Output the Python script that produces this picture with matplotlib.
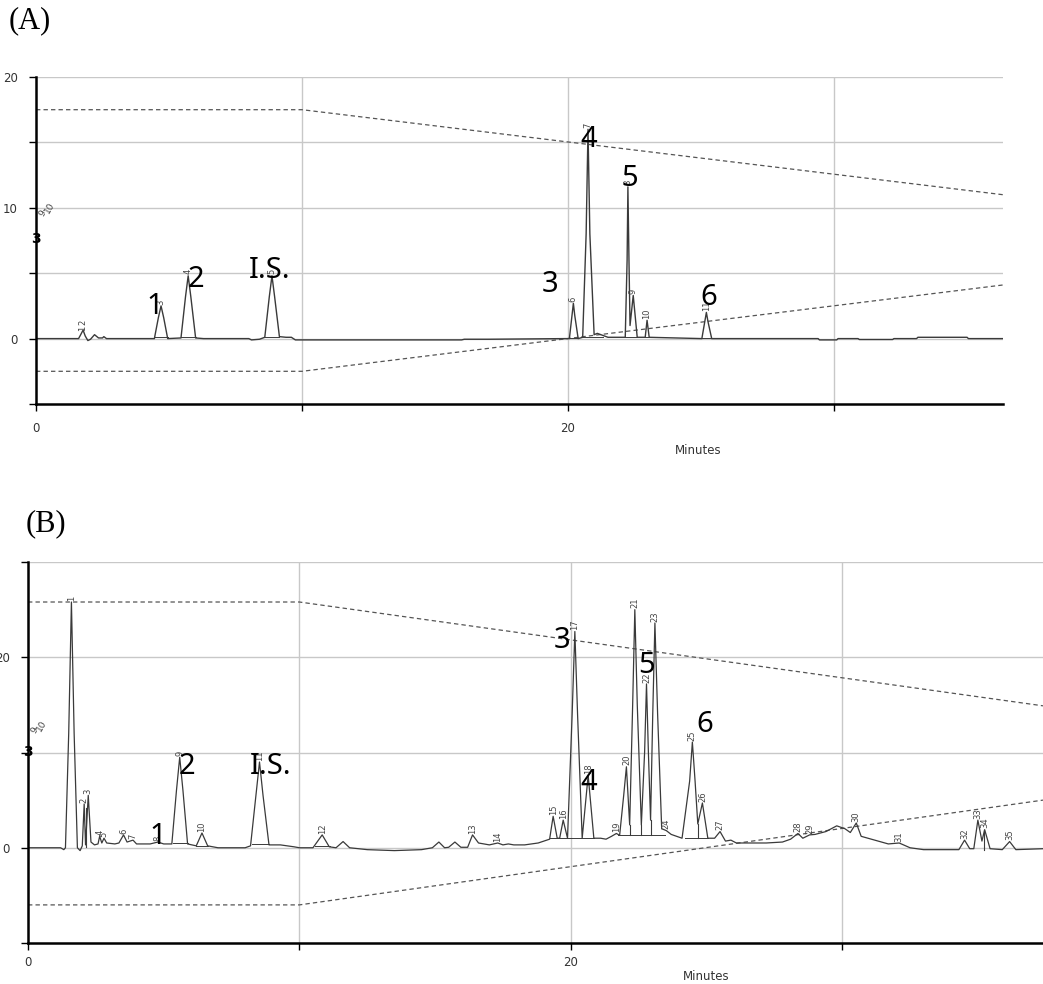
import matplotlib
matplotlib.use("Agg")
import matplotlib.pyplot as plt

# ---------------- Panel A data ----------------
a_time = [0.0, 1.6, 1.68, 1.77, 1.85, 1.95, 2.05, 2.2, 2.35, 2.5, 2.55, 2.65,
          4.45, 4.6, 4.7, 4.8, 4.95, 5.45, 5.62, 5.72, 5.82, 6.0, 6.3,
          8.0, 8.1, 8.4, 8.6, 8.77, 8.87, 8.97, 9.15, 9.4, 9.6, 9.75,
          16.0, 16.1, 17.0, 19.9,
          20.05, 20.15, 20.2, 20.25, 20.38, 20.55, 20.68, 20.75, 20.82, 20.98, 21.1, 21.3, 21.5,
          22.15, 22.22, 22.25, 22.29, 22.33, 22.45, 22.6, 22.9, 22.97, 23.05,
          25.03, 25.14, 25.2, 25.26, 25.4,
          29.4, 29.45, 30.1, 30.15, 30.9, 30.95, 32.2, 32.25, 33.1, 33.15, 35.0, 35.05, 36.35]
a_signal = [0.0, 0.0, 0.3, 0.65, 0.2, -0.15, -0.05, 0.3, 0.05, 0.05, 0.15, 0.0,
            0.0, 1.6, 2.5, 1.6, 0.0, 0.05, 3.2, 4.8, 3.2, 0.05, 0.0,
            0.0, -0.1, -0.05, 0.1, 3.2, 4.8, 3.2, 0.15, 0.1, 0.1, -0.1,
            -0.1, -0.05, -0.05, 0.0,
            0.0, 1.8, 2.7, 1.8, 0.0, 0.1, 8.0, 16.0, 8.0, 0.3, 0.4, 0.25, 0.1,
            0.1, 6.0, 11.6, 6.0, 1.0, 3.3, 0.1, 0.1, 1.4, 0.1,
            0.0, 1.3, 2.0, 1.3, 0.0,
            0.0, -0.1, -0.1, 0.0, 0.0, -0.07, -0.07, 0.0, 0.0, 0.1, 0.1, 0.0, 0.0]
a_grad_t = [0.0, 10.0, 36.35]
a_grad_hi = [17.5, 17.5, 11.0]
a_grad_lo = [-2.5, -2.5, 4.1]
a_peak_lab = ["1", "2", "3", "4", "5", "6", "7", "8", "9", "10", "11"]
a_peak_t = [1.77, 1.77, 4.7, 5.72, 8.87, 20.2, 20.75, 22.25, 22.45, 22.97, 25.2]
a_peak_h = [0.45, 0.9, 2.5, 4.8, 4.8, 2.7, 16.0, 11.6, 3.3, 1.4, 2.0]
a_base_t0 = [4.45, 5.45, 8.6, 20.05, 20.55, 22.15, 22.88, 25.03]
a_base_t1 = [4.95, 6.0, 9.15, 20.38, 21.3, 22.6, 23.05, 25.4]
a_base_y = [0.1, 0.1, 0.15, 0.05, 0.15, 0.15, 0.1, 0.05]
a_comp_lab = ["1", "2", "I.S.", "3", "4", "5", "6"]
a_comp_t = [4.47, 6.02, 8.80, 19.32, 20.79, 22.33, 25.30]
a_comp_y = [2.44, 4.49, 5.17, 4.11, 15.22, 12.25, 3.12]

# ---------------- Panel B data ----------------
b_time = [0.0, 1.2, 1.32, 1.38, 1.5, 1.6, 1.7, 1.82, 1.92, 2.0, 2.07, 2.12, 2.22, 2.32,
          2.45, 2.58, 2.64, 2.72, 2.8, 2.9, 3.2, 3.35, 3.52, 3.65, 3.87, 4.0, 4.5, 4.79, 5.0,
          5.3, 5.47, 5.59, 5.71, 5.88, 6.2, 6.41, 6.62, 7.0, 8.0, 8.2, 8.4, 8.53, 8.66, 8.88,
          9.3, 9.8, 10.0, 10.5, 10.84, 11.1, 11.35, 11.61, 11.85, 12.5, 13.5, 14.5, 14.9,
          15.14, 15.35, 15.5, 15.73, 15.95, 16.2, 16.38, 16.6, 17.0, 17.31, 17.5, 17.7, 17.9,
          18.3, 18.8, 19.22, 19.35, 19.5, 19.59, 19.72, 19.88, 20.05, 20.15, 20.25, 20.42,
          20.64, 20.85, 21.1, 21.3, 21.5, 21.68, 21.8, 21.95, 22.05, 22.17, 22.28, 22.36,
          22.45, 22.6, 22.72, 22.79, 22.86, 22.94, 23.02, 23.1, 23.2, 23.35, 23.52, 23.7,
          24.1, 24.38, 24.48, 24.58, 24.68, 24.85, 25.05, 25.3, 25.5, 25.7, 25.9, 26.1, 26.6,
          27.2, 27.8, 28.1, 28.37, 28.55, 28.8, 29.0, 29.4, 29.8, 30.1, 30.3, 30.52, 30.7,
          31.2, 31.7, 32.1, 32.5, 33.0, 34.3, 34.51, 34.7, 34.85, 35.0, 35.15, 35.25, 35.45,
          35.9, 36.17, 36.4, 37.4]
b_signal = [0.0, 0.0, -0.2, 0.0, 12.0, 25.8, 12.0, 0.0, -0.3, 0.2, 4.6, 0.3, 5.5, 0.6,
            0.3, 0.4, 1.2, 0.5, 1.0, 0.5, 0.4, 0.5, 1.35, 0.6, 0.8, 0.4, 0.4, 0.6, 0.4,
            0.4, 6.0, 9.5, 6.0, 0.4, 0.2, 1.55, 0.2, 0.0, 0.0, 0.2, 5.5, 9.0, 5.5, 0.3,
            0.3, 0.1, 0.0, 0.0, 1.35, 0.1, 0.0, 0.65, 0.0, -0.2, -0.3, -0.2, 0.0,
            0.6, 0.0, 0.05, 0.6, 0.05, 0.05, 1.35, 0.5, 0.3, 0.5, 0.3, 0.4, 0.3,
            0.3, 0.5, 0.9, 3.3, 1.0, 1.0, 2.9, 1.0, 14.0, 22.7, 14.0, 1.0,
            7.6, 1.0, 1.0, 0.9, 1.2, 1.5, 1.3, 5.5, 8.5, 2.4, 15.0, 25.0,
            15.0, 2.4, 10.0, 17.2, 10.0, 2.9, 14.0, 23.6, 14.0, 2.0, 1.8, 1.4,
            1.0, 7.0, 11.1, 7.0, 2.5, 4.7, 1.0, 1.0, 1.7, 0.7, 0.8, 0.5, 0.5,
            0.5, 0.6, 0.9, 1.5, 1.0, 1.35, 1.4, 1.7, 2.3, 2.0, 1.6, 2.6, 1.2,
            0.8, 0.4, 0.5, 0.0, -0.2, -0.2, 0.8, -0.1, -0.1, 2.9, 0.7, 1.9, -0.1,
            -0.2, 0.65, -0.2, -0.1]
b_grad_t = [0.0, 10.0, 37.4]
b_grad_hi = [25.8, 25.8, 14.9]
b_grad_lo = [-6.0, -6.0, 5.0]
b_peak_lab = ["1", "2", "3", "4", "5", "6", "7", "8", "9", "10", "11", "12", "13", "14",
              "15", "16", "17", "18", "19", "20", "21", "22", "23", "24", "25", "26", "27",
              "28", "29", "30", "31", "32", "33", "34", "35"]
b_peak_t = [1.6, 2.07, 2.22, 2.64, 2.8, 3.52, 3.87, 4.79, 5.59, 6.41, 8.53, 10.84, 16.38,
            17.31, 19.35, 19.72, 20.15, 20.64, 21.68, 22.05, 22.36, 22.79, 23.1, 23.52,
            24.48, 24.85, 25.5, 28.37, 28.8, 30.52, 32.1, 34.51, 35.0, 35.25, 36.17]
b_peak_h = [25.8, 4.6, 5.5, 1.2, 1.0, 1.35, 0.8, 0.6, 9.5, 1.55, 9.0, 1.35, 1.35,
            0.5, 3.3, 2.9, 22.7, 7.6, 1.5, 8.5, 25.0, 17.2, 23.6, 1.8,
            11.1, 4.7, 1.7, 1.5, 1.35, 2.6, 0.5, 0.8, 2.9, 1.9, 0.65]
b_base_t0 = [5.35, 6.2, 8.25, 10.57, 19.22, 21.74, 24.2]
b_base_t1 = [5.88, 6.62, 8.88, 11.12, 20.85, 23.46, 25.05]
b_base_y = [0.5, 0.15, 0.35, 0.15, 1.0, 1.35, 1.0]
b_drop_t = [2.12, 19.5, 19.88, 20.42, 22.17, 22.6, 22.94, 24.68, 35.23]
b_drop_y0 = [0.1, 1.0, 1.0, 1.0, 1.35, 1.35, 1.35, 1.0, -0.2]
b_drop_y1 = [4.2, 1.0, 1.0, 1.0, 2.4, 2.4, 2.9, 2.5, 1.9]
b_comp_lab = ["1", "2", "I.S.", "3", "4", "5", "6"]
b_comp_t = [4.79, 5.86, 8.95, 19.67, 20.66, 22.80, 24.94]
b_comp_y = [1.15, 8.54, 8.54, 21.77, 6.88, 19.17, 12.9]

# ---------------- drawing ----------------
W, H = 1043, 984
fig = plt.figure(figsize=(W / 100, H / 100), dpi=100)
fig.patch.set_facecolor("white")

GRID = "#c8c8c8"
TRACE = "#3a3a3a"
DASH = "#555555"
TICKFONT = dict(family="DejaVu Sans", size=8.5, color="#333333")


def px_axes(l, r, t, b):
    return fig.add_axes([l / W, 1 - b / H, (r - l) / W, (b - t) / H])


def style(ax, xmax, ylo, yhi, ygrid, yticks, ylabels, xpad, ypad):
    ax.set_xlim(0, xmax)
    ax.set_ylim(ylo, yhi)
    for s in ["top", "right"]:
        ax.spines[s].set_visible(False)
    for s in ["left", "bottom"]:
        ax.spines[s].set_linewidth(1.8)
        ax.spines[s].set_color("black")
        ax.spines[s].set_zorder(5)
    ax.set_xticks([0, 10, 20, 30])
    ax.set_xticklabels(["0", "", "20", ""], **TICKFONT)
    ax.set_yticks(yticks)
    ax.set_yticklabels(ylabels, **TICKFONT)
    ax.tick_params(length=5, width=1, color="black")
    ax.tick_params(axis="x", pad=xpad)
    ax.tick_params(axis="y", pad=ypad)
    for g in ygrid:
        ax.axhline(g, color=GRID, lw=1.0, zorder=0)
    for g in [10, 20, 30]:
        ax.axvline(g, color=GRID, lw=1.0, zorder=0)


def draw(ax, t, s, gt, ghi, glo, plab, pt, ph, bt0, bt1, by, clab, ct, cy, tw):
    ax.plot(gt, ghi, color=DASH, lw=0.9, ls=(0, (3.5, 2.5)), zorder=1)
    ax.plot(gt, glo, color=DASH, lw=0.9, ls=(0, (3.5, 2.5)), zorder=1)
    ax.plot(t, s, color=TRACE, lw=tw, zorder=3)
    for a, b, c in zip(bt0, bt1, by):
        ax.plot([a, b], [c, c], color=TRACE, lw=0.7, zorder=3)
    for lab, x, y in zip(plab, pt, ph):
        ax.annotate(lab, (x, y), xytext=(0, 1), textcoords="offset points",
                    rotation=90, ha="center", va="bottom", fontsize=6,
                    family="DejaVu Sans", color="#444444", zorder=4)
    for lab, x, y in zip(clab, ct, cy):
        ax.text(x, y, lab, ha="center", va="center", fontsize=21,
                family="Noto Sans", color="black", zorder=6)


# Panel A
axA = px_axes(36, 1003, 77, 404)
style(axA, 36.35, -5, 20, [0, 5, 10, 15, 20], [-5, 0, 5, 10, 15, 20],
      ["", "0", "", "10", "", "20"], 8, 8)
draw(axA, a_time, a_signal, a_grad_t, a_grad_hi, a_grad_lo, a_peak_lab, a_peak_t,
     a_peak_h, a_base_t0, a_base_t1, a_base_y, a_comp_lab, a_comp_t, a_comp_y, 1.0)
axA.text(0.25, 9.6, "9", rotation=60, fontsize=6.5, color="#444444", ha="center",
         va="center", clip_on=False)
axA.text(0.5, 10.0, "10", rotation=60, fontsize=6.5, color="#444444", ha="center",
         va="center", clip_on=False)
axA.text(0.0, 7.6, "3", fontsize=10, fontweight="bold", color="black", ha="center",
         va="center", zorder=6, clip_on=False)

# Panel B
axB = px_axes(28, 1043, 562, 943)
style(axB, 37.4, -10, 30, [0, 10, 20, 30], [-10, 0, 10, 20, 30],
      ["", "0", "", "20", ""], 4, 8)
draw(axB, b_time, b_signal, b_grad_t, b_grad_hi, b_grad_lo, b_peak_lab, b_peak_t,
     b_peak_h, b_base_t0, b_base_t1, b_base_y, b_comp_lab, b_comp_t, b_comp_y, 0.9)
for x, y0, y1 in zip(b_drop_t, b_drop_y0, b_drop_y1):
    axB.plot([x, x], [y0, y1], color=TRACE, lw=0.8, zorder=3)
axB.text(0.25, 12.3, "9", rotation=60, fontsize=6.5, color="#444444", ha="center",
         va="center", clip_on=False)
axB.text(0.5, 12.8, "10", rotation=60, fontsize=6.5, color="#444444", ha="center",
         va="center", clip_on=False)
axB.text(0.0, 10.0, "3", fontsize=10, fontweight="bold", color="black", ha="center",
         va="center", zorder=6, clip_on=False)

# labels
fig.text(698 / W, 1 - 450 / H, "Minutes", ha="center", va="center",
         family="DejaVu Sans", fontsize=8.5, color="#333333")
fig.text(706 / W, 1 - 977 / H, "Minutes", ha="center", va="center",
         family="DejaVu Sans", fontsize=8.5, color="#333333")
fig.text(9 / W, 1 - 21 / H, "(A)", ha="left", va="center",
         family="Liberation Serif", fontsize=22, color="black")
fig.text(26 / W, 1 - 524 / H, "(B)", ha="left", va="center",
         family="Liberation Serif", fontsize=22, color="black")

fig.savefig("out.png", dpi=100, facecolor="white")
